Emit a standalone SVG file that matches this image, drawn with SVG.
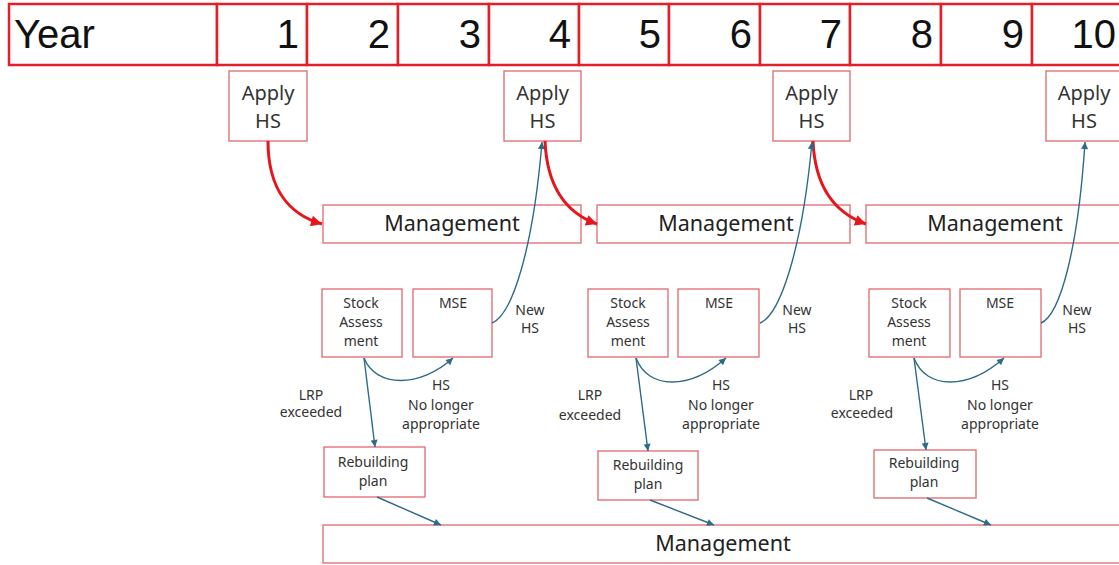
<svg xmlns="http://www.w3.org/2000/svg" width="1119" height="565" viewBox="0 0 1119 565">
<style>
.bg{fill:#ffffff}
.cell{fill:#ffffff;stroke:#e3202a;stroke-width:2.5}
.box{fill:#ffffff;stroke:#e2737a;stroke-width:1.4}
.big{font-family:"Liberation Sans",Arial,sans-serif;font-size:40px;fill:#111}
.num{text-anchor:end}
.t20{font-family:"Noto Sans","Open Sans",sans-serif;font-size:20px;fill:#333;text-anchor:middle}
.t21{font-family:"Noto Sans","Open Sans",sans-serif;font-size:21.5px;fill:#222;text-anchor:middle}
.t14{font-family:"Noto Sans","Open Sans",sans-serif;font-size:14px;fill:#333;text-anchor:middle}
.blue{fill:none;stroke:#2d6b86;stroke-width:1.4}
.red{fill:none;stroke:#e8141c;stroke-width:3}
</style>
<defs>
<marker id="ab" viewBox="0 0 10 10" refX="10" refY="5" markerUnits="userSpaceOnUse" markerWidth="8" markerHeight="7" orient="auto"><path d="M0,0 L10,5 L0,10 z" fill="#2d6b86"/></marker>
<marker id="ar" viewBox="0 0 10 10" refX="10" refY="5" markerUnits="userSpaceOnUse" markerWidth="13" markerHeight="11" orient="auto"><path d="M0,0 L10,5 L0,10 z" fill="#e8141c"/></marker>
</defs>
<rect class="bg" x="0" y="0" width="1119" height="565"/>

<g id="year-row">
<rect class="cell" x="9" y="4" width="208" height="61"/>
<rect class="cell" x="217" y="4" width="90" height="61"/>
<rect class="cell" x="307" y="4" width="91" height="61"/>
<rect class="cell" x="398" y="4" width="91" height="61"/>
<rect class="cell" x="489" y="4" width="90" height="61"/>
<rect class="cell" x="579" y="4" width="90" height="61"/>
<rect class="cell" x="669" y="4" width="91" height="61"/>
<rect class="cell" x="760" y="4" width="90" height="61"/>
<rect class="cell" x="850" y="4" width="91" height="61"/>
<rect class="cell" x="941" y="4" width="91" height="61"/>
<rect class="cell" x="1032" y="4" width="95" height="61"/>
<text class="big" x="14" y="48">Year</text>
<text class="big num" x="299" y="48">1</text>
<text class="big num" x="390" y="48">2</text>
<text class="big num" x="481" y="48">3</text>
<text class="big num" x="571" y="48">4</text>
<text class="big num" x="661" y="48">5</text>
<text class="big num" x="752" y="48">6</text>
<text class="big num" x="842" y="48">7</text>
<text class="big num" x="933" y="48">8</text>
<text class="big num" x="1024" y="48">9</text>
<text class="big num" x="1116" y="48">10</text>
</g>

<g id="apply-hs-1"><rect class="box" x="229" y="71" width="78" height="70"/><text class="t20" x="268" y="100">Apply</text><text class="t20" x="268" y="128">HS</text></g>
<g id="apply-hs-4"><rect class="box" x="504" y="71" width="77" height="70"/><text class="t20" x="542.5" y="100">Apply</text><text class="t20" x="542.5" y="128">HS</text></g>
<g id="apply-hs-7"><rect class="box" x="773" y="71" width="77" height="70"/><text class="t20" x="811.5" y="100">Apply</text><text class="t20" x="811.5" y="128">HS</text></g>
<g id="apply-hs-10"><rect class="box" x="1046" y="71" width="78" height="70"/><text class="t20" x="1084" y="100">Apply</text><text class="t20" x="1084" y="128">HS</text></g>

<g id="management-1"><rect class="box" x="323" y="205" width="258" height="38"/><text class="t21" x="452" y="231">Management</text></g>
<g id="management-2"><rect class="box" x="597" y="205" width="253" height="38"/><text class="t21" x="726" y="231">Management</text></g>
<g id="management-3"><rect class="box" x="866" y="205" width="260" height="38"/><text class="t21" x="995" y="231">Management</text></g>

<g id="stock-1"><rect class="box" x="322" y="289" width="80" height="68"/><text class="t14" x="361" y="308">Stock</text><text class="t14" x="361" y="327">Assess</text><text class="t14" x="361" y="346">ment</text></g>
<g id="mse-1"><rect class="box" x="413" y="289" width="79" height="68"/><text class="t14" x="453" y="308">MSE</text></g>
<g id="rebuild-1"><rect class="box" x="324" y="447" width="101" height="50"/><text class="t14" x="373" y="467">Rebuilding</text><text class="t14" x="373" y="486">plan</text></g>

<g id="stock-2"><rect class="box" x="588" y="289" width="80" height="68"/><text class="t14" x="628" y="308">Stock</text><text class="t14" x="628" y="327">Assess</text><text class="t14" x="628" y="346">ment</text></g>
<g id="mse-2"><rect class="box" x="678" y="289" width="81" height="68"/><text class="t14" x="719" y="308">MSE</text></g>
<g id="rebuild-2"><rect class="box" x="598" y="451" width="100" height="49"/><text class="t14" x="648" y="470">Rebuilding</text><text class="t14" x="648" y="489">plan</text></g>

<g id="stock-3"><rect class="box" x="869" y="289" width="81" height="68"/><text class="t14" x="909" y="308">Stock</text><text class="t14" x="909" y="327">Assess</text><text class="t14" x="909" y="346">ment</text></g>
<g id="mse-3"><rect class="box" x="960" y="289" width="81" height="68"/><text class="t14" x="1000" y="308">MSE</text></g>
<g id="rebuild-3"><rect class="box" x="874" y="450" width="102" height="48"/><text class="t14" x="924" y="468">Rebuilding</text><text class="t14" x="924" y="487">plan</text></g>

<g id="management-bottom"><rect class="box" x="323" y="525" width="803" height="38"/><text class="t21" x="723" y="551">Management</text></g>

<g id="connectors">
<path class="red" marker-end="url(#ar)" d="M268,141 C268,190 290,215 322,224"/>
<path class="red" marker-end="url(#ar)" d="M545,141 C547,187 566,213 597,224"/>
<path class="red" marker-end="url(#ar)" d="M813,141 C815,187 835,213 866,224"/>

<path class="blue" marker-end="url(#ab)" d="M492,323 C512,315 533,250 542,142"/>
<path class="blue" marker-end="url(#ab)" d="M760,323 C780,315 802,250 812,142"/>
<path class="blue" marker-end="url(#ab)" d="M1041,323 C1060,315 1078,250 1085,142"/>

<path class="blue" marker-end="url(#ab)" d="M364,358 L375,447"/>
<path class="blue" marker-end="url(#ab)" d="M364,358 C376,388 420,388 453,358"/>
<path class="blue" marker-end="url(#ab)" d="M377,497 L441,525"/>

<path class="blue" marker-end="url(#ab)" d="M636,358 L648,451"/>
<path class="blue" marker-end="url(#ab)" d="M636,358 C648,390 690,390 726,358"/>
<path class="blue" marker-end="url(#ab)" d="M650,500 L714,525"/>

<path class="blue" marker-end="url(#ab)" d="M914,358 L926,450"/>
<path class="blue" marker-end="url(#ab)" d="M914,358 C926,390 968,390 1004,358"/>
<path class="blue" marker-end="url(#ab)" d="M927,498 L991,525"/>

<text class="t14" x="530" y="315">New</text><text class="t14" x="530" y="333">HS</text>
<text class="t14" x="311" y="400">LRP</text><text class="t14" x="311" y="417">exceeded</text>
<text class="t14" x="441" y="390">HS</text><text class="t14" x="441" y="410">No longer</text><text class="t14" x="441" y="429">appropriate</text>

<text class="t14" x="797" y="315">New</text><text class="t14" x="797" y="333">HS</text>
<text class="t14" x="590" y="400">LRP</text><text class="t14" x="590" y="420">exceeded</text>
<text class="t14" x="721" y="390">HS</text><text class="t14" x="721" y="410">No longer</text><text class="t14" x="721" y="429">appropriate</text>

<text class="t14" x="1077" y="315">New</text><text class="t14" x="1077" y="333">HS</text>
<text class="t14" x="861" y="400">LRP</text><text class="t14" x="862" y="418">exceeded</text>
<text class="t14" x="1000" y="390">HS</text><text class="t14" x="1000" y="410">No longer</text><text class="t14" x="1000" y="429">appropriate</text>
</g>
</svg>
